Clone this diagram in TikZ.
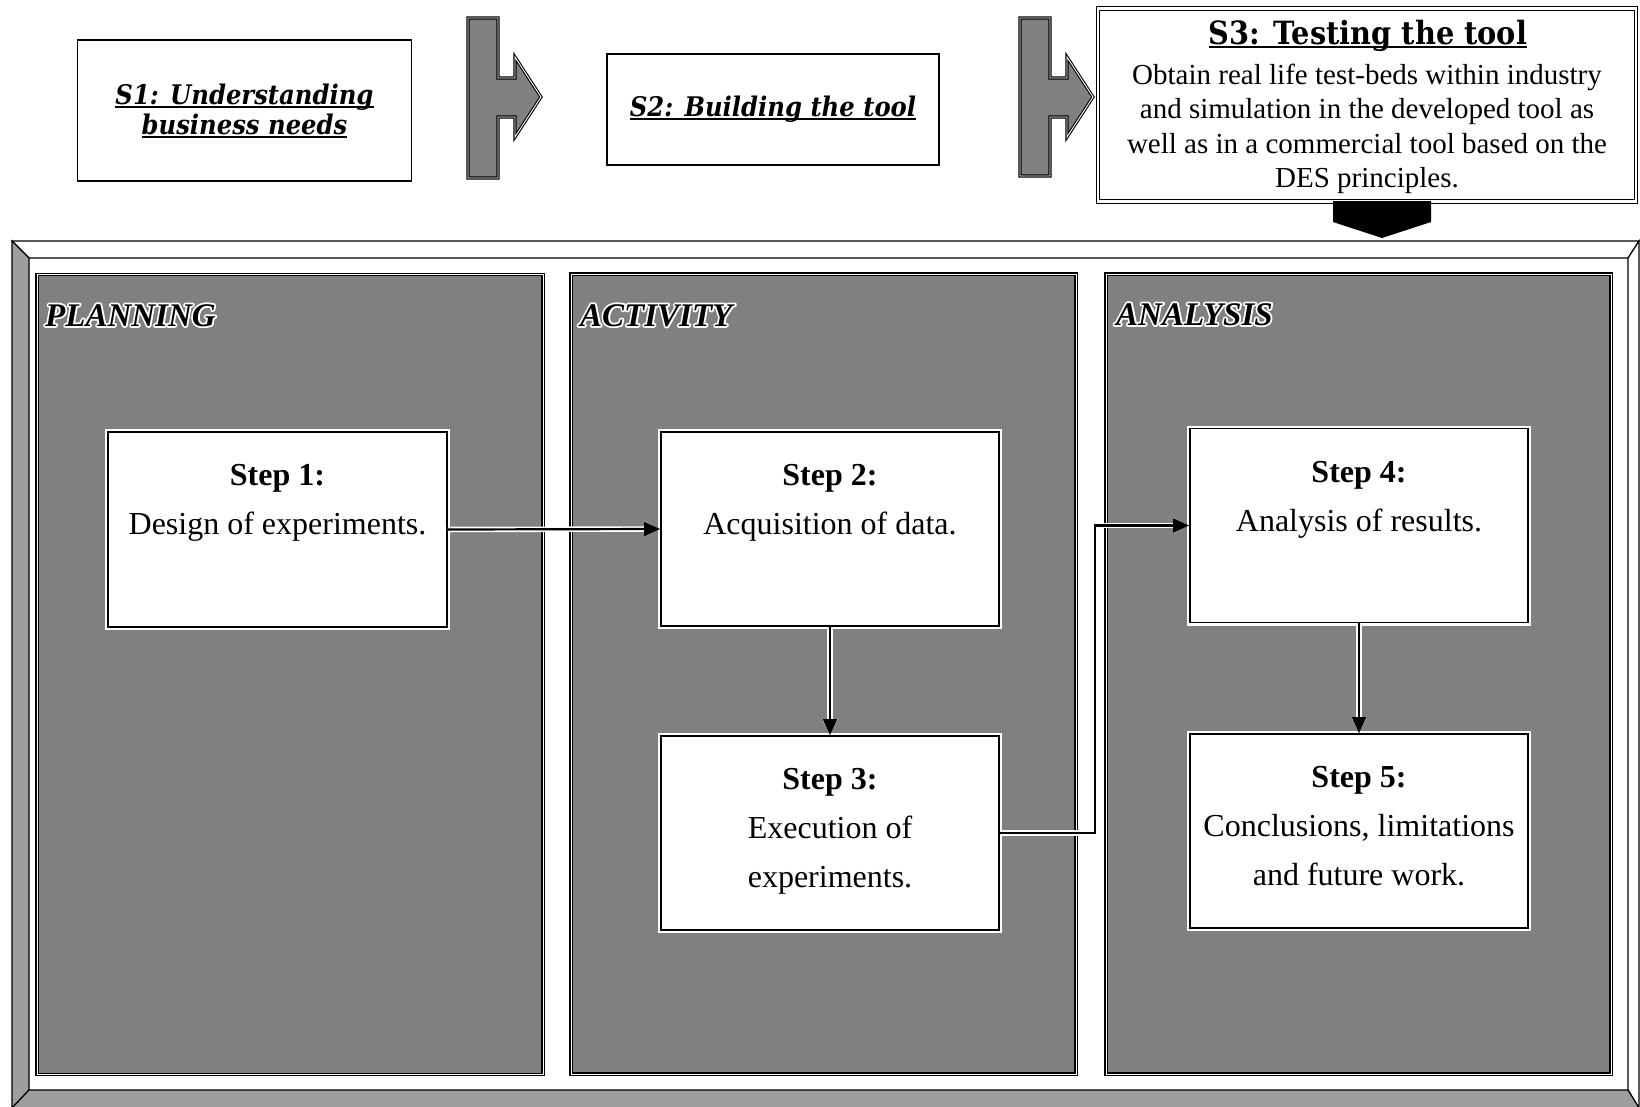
\documentclass[tikz,border=0pt]{standalone}
\usepackage{fontspec}
\setmainfont{Liberation Serif}
\newfontfamily\headfont[FakeStretch=0.9]{DejaVu Serif}
\usetikzlibrary{arrows.meta,calc}

\definecolor{grain}{gray}{0.5}
\definecolor{grainlight}{gray}{0.62}

% underline that crosses the descenders, as word processors do
\newcommand{\wordul}[1]{\setbox0\hbox{#1}\rlap{\rule[-3.4pt]{\wd0}{1.8pt}}\box0}
% black lettering with a white rim: a stroked white pass under the plain glyphs
\newcommand{\haloword}[1]{%
  \rlap{\special{pdf:code q 1 Tr 1 1 1 RG 3.6 w 1 j}#1\special{pdf:code Q}}#1}

\tikzset{
  stagebox/.style={draw=black, line width=1.3pt, fill=white, inner sep=0pt},
  stagetext/.style={align=center, inner sep=0pt,
    font=\headfont\bfseries\itshape\fontsize{27}{30}\selectfont},
  tarrow/.style={fill=grain, draw=black, line width=1.1pt, double=white, double distance=0.9pt},
  panel/.style={fill=grain, draw=black, line width=1.3pt, double=white, double distance=1pt,
    inner sep=0pt},
  paneltitle/.style={anchor=base west, inner sep=0pt,
    font=\bfseries\itshape\fontsize{33}{33}\selectfont},
  stepbox/.style={draw=black, line width=1.6pt, fill=white, inner sep=0pt,
    minimum width=338pt, minimum height=194pt,
    preaction={draw=white, line width=6pt}},
  steptext/.style={align=center, inner sep=0pt, anchor=north,
    font=\fontsize{32}{49}\selectfont},
  link/.style={draw=black, line width=2.2pt,
    preaction={draw=white, line width=5.5pt},
    -{Triangle[length=16pt,width=14pt]}},
}

\begin{document}
\begin{tikzpicture}[x=1pt, y=-1pt]
\useasboundingbox (0,0) rectangle (1640,1106);
\fill[white] (0,0) rectangle (1640,1106);

% ---- stage row ----
\node[stagebox, minimum width=334pt, minimum height=141pt] (u1) at (244.5,110.5) {};
\node[stagetext] (u1txt) at (244.5,111) {\wordul{S1: Understanding}\\\wordul{business needs}};

\filldraw[tarrow] (468,18) -- (498,18) -- (498,78) -- (515,78) -- (515,57) -- (541,97)
  -- (515,137) -- (515,117) -- (498,117) -- (498,178) -- (468,178) -- cycle;

\node[stagebox, minimum width=332pt, minimum height=111pt] (u2) at (773,109.5) {};
\node[stagetext] (u2txt) at (773,109) {\wordul{S2: Building the tool}};

\filldraw[tarrow] (1020,18) -- (1050,18) -- (1050,78) -- (1067,78) -- (1067,57) -- (1093,97)
  -- (1067,137) -- (1067,117) -- (1050,117) -- (1050,176) -- (1020,176) -- cycle;

\node[stagebox, draw=black, line width=1.1pt, double=white, double distance=2.6pt,
  minimum width=538pt, minimum height=193pt] (u3) at (1367,105) {};
\node[inner sep=0pt, font=\headfont\bfseries\fontsize{32}{34}\selectfont] (u3title)
  at (1368,36) {\wordul{S3: Testing the tool}};
\node[inner sep=0pt, align=center, font=\fontsize{29}{34.5}\selectfont] (u3body)
  at (1367,129) {Obtain real life test-beds within industry\\
  and simulation in the developed tool as\\
  well as in a commercial tool based on the\\
  DES principles.};

% solid pointer from the testing stage into the frame
\fill[black] (1333,201) -- (1431,201) -- (1431,222) -- (1382,238) -- (1333,222) -- cycle;

% ---- bevelled frame ----
\filldraw[fill=white, draw=black, line width=1.2pt]
  (12,241) -- (1639,241) -- (1628,258) -- (29,258) -- cycle;
\filldraw[fill=white, draw=black, line width=1.2pt]
  (1639,241) -- (1639,1108) -- (1628,1090) -- (1628,258) -- cycle;
\filldraw[fill=grainlight, draw=black, line width=1.2pt]
  (12,241) -- (29,258) -- (29,1090) -- (12,1108) -- cycle;
\filldraw[fill=grainlight, draw=black, line width=1.2pt]
  (12,1108) -- (29,1090) -- (1628,1090) -- (1639,1108) -- cycle;

% ---- three phase panels ----
\node[panel, minimum width=506pt, minimum height=800pt] (plan) at (290,674.5) {};
\node[panel, minimum width=505pt, minimum height=800pt] (act) at (823.5,674) {};
\node[panel, minimum width=505pt, minimum height=800pt] (ana) at (1358.5,674) {};

\node[paneltitle] (plantitle) at (45,326) {\haloword{PLANNING}};
\node[paneltitle] (acttitle) at (580,326) {\haloword{ACTIVITY}};
\node[paneltitle] (anatitle) at (1116,325) {\haloword{ANALYSIS}};

% ---- steps ----
\node[stepbox, minimum width=339pt, minimum height=195pt] (st1) at (277.5,529.5) {};
\node[stepbox] (st2) at (830,529) {};
\node[stepbox] (st3) at (830,833) {};
\node[stepbox] (st4) at (1359,525.5) {};
\node[stepbox] (st5) at (1359,831) {};

\node[steptext] (st1txt) at ($(st1.north)+(0,33)$) {\textbf{Step 1:}\\Design of experiments.};
\node[steptext] (st2txt) at ($(st2.north)+(0,33)$) {\textbf{Step 2:}\\Acquisition of data.};
\node[steptext] (st3txt) at ($(st3.north)+(0,33)$) {\textbf{Step 3:}\\Execution of\\experiments.};
\node[steptext] (st4txt) at ($(st4.north)+(0,33)$) {\textbf{Step 4:}\\Analysis of results.};
\node[steptext] (st5txt) at ($(st5.north)+(0,33)$) {\textbf{Step 5:}\\Conclusions, limitations\\and future work.};

% ---- connectors ----
\coordinate (bend) at (1095,0);
\draw[link] (st1.east) -- (st2.west);
\draw[link] (st2.south) -- (st3.north);
\draw[link] (st3.east) -- (st3.east -| bend) -- (st4.west -| bend) -- (st4.west);
\draw[link] (st4.south) -- (st5.north);
\end{tikzpicture}
\end{document}
